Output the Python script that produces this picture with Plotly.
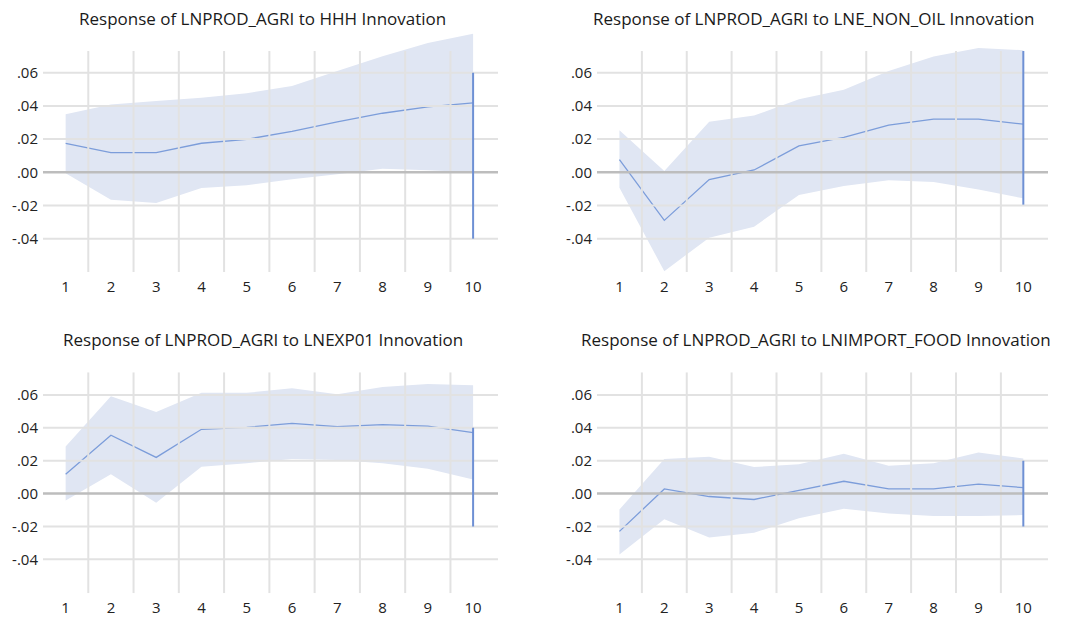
import plotly.graph_objects as go

periods = [1, 2, 3, 4, 5, 6, 7, 8, 9, 10]

titles = [
    "Response of LNPROD_AGRI to HHH Innovation",
    "Response of LNPROD_AGRI to LNE_NON_OIL Innovation",
    "Response of LNPROD_AGRI to LNEXP01 Innovation",
    "Response of LNPROD_AGRI to LNIMPORT_FOOD Innovation",
]

# Panel 1: HHH
hhh_resp = [0.0175, 0.0119, 0.0119, 0.0175, 0.0199, 0.0247, 0.0304, 0.0356, 0.0394, 0.0418]
hhh_upper = [0.0350, 0.0408, 0.0430, 0.0450, 0.0477, 0.0520, 0.0610, 0.0700, 0.0780, 0.0835]
hhh_lower = [-0.0006, -0.0165, -0.0185, -0.0095, -0.0078, -0.0042, -0.0012, 0.0022, 0.0012, 0.0000]

# Panel 2: LNE_NON_OIL
oil_resp = [0.0076, -0.0290, -0.0044, 0.0014, 0.0159, 0.0211, 0.0284, 0.0320, 0.0320, 0.0290]
oil_upper = [0.0254, 0.0008, 0.0304, 0.0342, 0.0440, 0.0497, 0.0610, 0.0698, 0.0749, 0.0736]
oil_lower = [-0.0093, -0.0596, -0.0394, -0.0328, -0.0137, -0.0083, -0.0048, -0.0058, -0.0103, -0.0157]

# Panel 3: LNEXP01
exp_resp = [0.0117, 0.0355, 0.0220, 0.0391, 0.0403, 0.0427, 0.0407, 0.0419, 0.0411, 0.0371]
exp_upper = [0.0286, 0.0593, 0.0496, 0.0613, 0.0613, 0.0641, 0.0605, 0.0649, 0.0667, 0.0659]
exp_lower = [-0.0042, 0.0117, -0.0056, 0.0163, 0.0185, 0.0210, 0.0204, 0.0185, 0.0151, 0.0085]

# Panel 4: LNIMPORT_FOOD
food_resp = [-0.0230, 0.0028, -0.0018, -0.0036, 0.0020, 0.0075, 0.0028, 0.0028, 0.0058, 0.0036]
food_upper = [-0.0097, 0.0210, 0.0224, 0.0161, 0.0179, 0.0242, 0.0169, 0.0185, 0.0250, 0.0214]
food_lower = [-0.0371, -0.0157, -0.0268, -0.0238, -0.0151, -0.0093, -0.0121, -0.0137, -0.0137, -0.0131]

# vertical marker segment at the last period (bottom, top)
vline_spans = [(-0.04, 0.06), (-0.0195, 0.0731), (-0.02, 0.04), (-0.02, 0.02)]

y_tickvals = [-0.04, -0.02, 0.00, 0.02, 0.04, 0.06]
y_ticktext = ["-.04", "-.02", ".00", ".02", ".04", ".06"]
x_ticktext = [str(p) for p in periods]

responses = [hhh_resp, oil_resp, exp_resp, food_resp]
uppers = [hhh_upper, oil_upper, exp_upper, food_upper]
lowers = [hhh_lower, oil_lower, exp_lower, food_lower]

W, H = 1076, 619

x_doms = [(43, 498), (597, 1048), (43, 498), (597, 1048)]
y_ranges = [(-0.0601, 0.09), (-0.0601, 0.09), (-0.0607, 0.0738), (-0.0607, 0.0738)]
grid_top = [0.0731, 0.0731, 0.0738, 0.0738]
y_pix = [(272, 272 - (0.09 + 0.0601) / 0.02 * 33.18),
         (272, 272 - (0.09 + 0.0601) / 0.02 * 33.18),
         (593.3, 372.3),
         (593.3, 372.3)]
title_pos = [(262, 18), (813, 18), (263, 339), (816, 339)]

FILL = "#E0E6F3"
LINE = "#7C9DDA"
VLINE = "#6E90D4"
GRID = "#E2E2E2"
ZERO = "#BDBDBD"
FONT = "Open Sans"

fig = go.Figure()
shapes = []
annotations = []
layout = {}

for i in range(4):
    n = "" if i == 0 else str(i + 1)
    xa, ya = "x" + n, "y" + n
    fig.add_trace(go.Scatter(x=periods, y=lowers[i], mode="lines", line=dict(width=0),
                             xaxis=xa, yaxis=ya, showlegend=False, hoverinfo="skip"))
    fig.add_trace(go.Scatter(x=periods, y=uppers[i], mode="lines", line=dict(width=0),
                             fill="tonexty", fillcolor=FILL,
                             xaxis=xa, yaxis=ya, showlegend=False, hoverinfo="skip"))
    fig.add_trace(go.Scatter(x=periods, y=responses[i], mode="lines", line=dict(width=1.3, color=LINE),
                             xaxis=xa, yaxis=ya, showlegend=False))

    l, r = x_doms[i]
    b, t = y_pix[i]
    layout["xaxis" + n] = dict(
        domain=[l / W, r / W], range=[0.5, 10.55], anchor=ya,
        tickvals=periods, ticktext=x_ticktext, showgrid=False, zeroline=False,
        showline=False, ticks="", ticklen=0, ticklabelstandoff=4,
        tickfont=dict(family=FONT, size=15, color="#222222"), fixedrange=True,
    )
    layout["yaxis" + n] = dict(
        domain=[1 - b / H, 1 - t / H], range=list(y_ranges[i]), anchor=xa,
        tickvals=y_tickvals, ticktext=y_ticktext, showgrid=False, zeroline=False,
        showline=False, ticks="", ticklen=0, ticklabelstandoff=4,
        tickfont=dict(family=FONT, size=15, color="#222222"), fixedrange=True,
    )

    for gx in periods[:-1]:
        shapes.append(dict(type="line", xref=xa, yref=ya, x0=gx + 0.5, x1=gx + 0.5,
                           y0=y_ranges[i][0], y1=grid_top[i], layer="above",
                           line=dict(color=GRID, width=2)))
    for gy in y_tickvals:
        if gy == 0:
            continue
        shapes.append(dict(type="line", xref=xa + " domain", yref=ya, x0=0, x1=1,
                           y0=gy, y1=gy, layer="above", line=dict(color=GRID, width=2)))
    shapes.append(dict(type="line", xref=xa + " domain", yref=ya, x0=0, x1=1,
                       y0=0, y1=0, layer="above", line=dict(color=ZERO, width=2.6)))
    lo, hi = vline_spans[i]
    shapes.append(dict(type="line", xref=xa, yref=ya, x0=periods[-1], x1=periods[-1],
                       y0=lo, y1=hi, layer="above", line=dict(color=VLINE, width=2)))

    tx, ty = title_pos[i]
    annotations.append(dict(text=titles[i], xref="paper", yref="paper", x=tx / W, y=1 - ty / H,
                            xanchor="center", yanchor="middle", showarrow=False,
                            font=dict(family=FONT, size=17, color="#1a1a1a")))

fig.update_layout(
    width=W, height=H, margin=dict(l=0, r=0, t=0, b=0),
    paper_bgcolor="white", plot_bgcolor="white",
    shapes=shapes, annotations=annotations, showlegend=False,
    **layout,
)

fig.write_html("out.html", config={"displayModeBar": False},
               post_script="document.body.style.margin='0px';")
